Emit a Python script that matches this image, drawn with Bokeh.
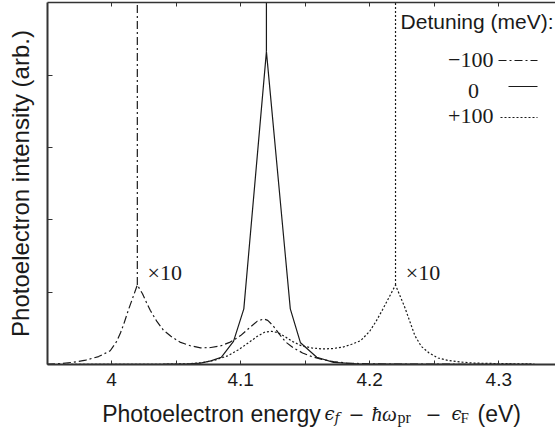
from bokeh.plotting import figure
from bokeh.layouts import column
from bokeh.models import FixedTicker, LinearAxis, Label
from bokeh.core.properties import value
from bokeh.embed import file_html
from bokeh.resources import INLINE

# ---------------- data ----------------
# Detuning -100 meV (dash-dot), shown x10 around its side peak
x_m100 = [3.950, 3.960, 3.970, 3.980, 3.990, 3.999, 4.004, 4.007, 4.0095, 4.013, 4.017,
          4.020, 4.024, 4.027, 4.030, 4.035, 4.040, 4.046, 4.053, 4.061, 4.069, 4.077,
          4.085, 4.092, 4.100, 4.107, 4.113, 4.118, 4.121, 4.125, 4.130, 4.135, 4.141,
          4.148, 4.155, 4.163, 4.172, 4.182, 4.200, 4.250, 4.328]
y_m100 = [0.005, 0.012, 0.030, 0.060, 0.110, 0.190, 0.320, 0.440, 0.560, 0.750, 0.950,
          1.100, 0.980, 0.860, 0.750, 0.600, 0.480, 0.390, 0.310, 0.260, 0.230, 0.235,
          0.260, 0.310, 0.400, 0.510, 0.600, 0.630, 0.610, 0.540, 0.420, 0.310, 0.230,
          0.160, 0.110, 0.070, 0.040, 0.020, 0.008, 0.004, 0.003]

# Detuning 0 meV (solid)
x_0 = [3.950, 4.000, 4.040, 4.060, 4.069, 4.077, 4.085, 4.0945, 4.1025, 4.120,
       4.1385, 4.1464, 4.159, 4.172, 4.190, 4.250, 4.328]
y_0 = [0.000, 0.002, 0.005, 0.010, 0.020, 0.050, 0.100, 0.320, 0.770, 4.330,
       0.770, 0.300, 0.100, 0.030, 0.010, 0.003, 0.000]

# Detuning +100 meV (dotted), shown x10 around its side peak
x_p100 = [3.950, 4.040, 4.060, 4.070, 4.080, 4.090, 4.098, 4.106, 4.113, 4.119, 4.124,
          4.129, 4.134, 4.140, 4.147, 4.155, 4.163, 4.171, 4.179, 4.186, 4.193, 4.200,
          4.205, 4.210, 4.215, 4.220, 4.223, 4.227, 4.231, 4.235, 4.240, 4.246, 4.253,
          4.261, 4.270, 4.280, 4.300, 4.327]
y_p100 = [0.000, 0.003, 0.010, 0.025, 0.060, 0.120, 0.200, 0.300, 0.390, 0.450, 0.460,
          0.440, 0.390, 0.320, 0.260, 0.230, 0.215, 0.220, 0.240, 0.280, 0.330, 0.460,
          0.600, 0.760, 0.930, 1.100, 0.970, 0.800, 0.600, 0.400, 0.250, 0.160, 0.090,
          0.055, 0.035, 0.020, 0.012, 0.008]

# sharp (off-scale) peaks: position and where the drawn line starts
spike_x = [4.02, 4.12, 4.22]
spike_base = [1.10, 4.33, 1.10]

x_ticks = [4.0, 4.1, 4.2, 4.3]
x_tick_labels = ["4", "4.1", "4.2", "4.3"]
x_minor_ticks = [3.95, 4.05, 4.15, 4.25]
y_ticks = [1, 2, 3, 4]

legend_title = "Detuning (meV):"
legend_labels = ["\u2212100", "0", "+100"]
scale_note = "\u00d710"

# ---------------- styles / layout ----------------
INK = "#1a1a1a"
AX = "#333333"
DASHDOT = "8 3 2 3"
DOTTED = "2 2"
SANS = "Liberation Sans"
SERIF = "Liberation Serif"
MATH = "DejaVu Serif"

W = 555
LEFT = 47          # frame left (px)
TOP = 2            # frame top (px)
FRAME_BOTTOM = 364 # frame bottom (px)
H1 = 395           # main figure height
H2 = 427 - H1      # x-title strip height
LABEL_LIFT = 8     # Label annotations sit a little low; lift them

X0 = 4 + (LEFT - 111) / 1291.0
X1 = 4 + (W - 111) / 1291.0
Y0, Y1 = 0.0, 5.01

p = figure(width=W, height=H1, x_range=(X0, X1), y_range=(Y0, Y1),
           output_backend="svg", toolbar_location=None,
           min_border_left=LEFT, min_border_right=0, min_border_top=TOP,
           min_border_bottom=H1 - FRAME_BOTTOM,
           x_axis_location=None, y_axis_location=None)
p.outline_line_color = None
p.xgrid.visible = False
p.ygrid.visible = False
p.background_fill_color = "white"
p.border_fill_color = "white"


def style_axis(ax, ticks, minor, size, width):
    ax.ticker = FixedTicker(ticks=ticks, minor_ticks=minor)
    ax.axis_line_color = AX
    ax.axis_line_width = width
    ax.major_tick_line_color = AX
    ax.minor_tick_line_color = AX
    ax.major_tick_in = size
    ax.major_tick_out = 0
    ax.minor_tick_in = size
    ax.minor_tick_out = 0


xb = LinearAxis()
style_axis(xb, x_ticks, x_minor_ticks, 4, 2)
xb.major_label_overrides = {t: l for t, l in zip(x_ticks, x_tick_labels)}
xb.major_label_text_font = SANS
xb.major_label_text_font_size = "19px"
xb.major_label_text_color = INK
xb.major_label_standoff = 8
p.add_layout(xb, "below")

xt = LinearAxis()
style_axis(xt, x_ticks, x_minor_ticks, 4, 1.5)
xt.major_label_overrides = {t: "" for t in x_ticks}
xt.major_label_text_font_size = "1px"
xt.major_label_standoff = 0
p.add_layout(xt, "above")

yl = LinearAxis()
style_axis(yl, y_ticks, [], 5, 2)
yl.major_label_overrides = {t: "" for t in y_ticks}
yl.major_label_text_font_size = "1px"
yl.major_label_standoff = 0
yl.axis_label = "Photoelectron intensity (arb.)"
yl.axis_label_text_font = SANS
yl.axis_label_text_font_style = "normal"
yl.axis_label_text_font_size = "24px"
yl.axis_label_text_color = INK
yl.axis_label_standoff = 14
p.add_layout(yl, "left")

# curves
p.line(x_m100, y_m100, line_color=INK, line_width=1.2, line_dash=DASHDOT)
p.line(x_0, y_0, line_color=INK, line_width=1.2)
p.line(x_p100, y_p100, line_color=INK, line_width=1.2, line_dash=DOTTED)

# sharp peaks (run off the top of the frame)
spike_dash = [DASHDOT, "solid", DOTTED]
for sx, sb, dash in zip(spike_x, spike_base, spike_dash):
    p.segment(x0=[sx], y0=[sb], x1=[sx], y1=[Y1 + 1], line_color=INK,
              line_width=1.2, line_dash=dash)


def px2x(px):
    return 4 + (px - 111) / 1291.0


def py2y(py):
    return (FRAME_BOTTOM - py) / ((FRAME_BOTTOM - TOP) / (Y1 - Y0))


def label_y(py):
    return py2y(py - LABEL_LIFT)


# x10 notes
for sx in (spike_x[0], spike_x[2]):
    p.add_layout(Label(x=sx + 0.0079, y=label_y(280), text=scale_note, text_font=SERIF,
                       text_font_size="22px", text_color=INK, text_baseline="alphabetic"))

# legend (label left of the line sample, as in the original)
p.add_layout(Label(x=px2x(553), y=label_y(29), text=legend_title, text_font=SANS,
                   text_font_size="21px", text_color=INK, text_align="right",
                   text_baseline="alphabetic"))
leg_text_py = [67, 98, 123]
leg_line_py = [60, 86, 117]
leg_align = ["right", "center", "right"]
leg_text_px = [493, 473, 493]
leg_start_px = [498, 508, 500]
for lab, tpy, lpy, al, tpx, spx, dash in zip(legend_labels, leg_text_py, leg_line_py,
                                              leg_align, leg_text_px, leg_start_px,
                                              spike_dash):
    p.add_layout(Label(x=px2x(tpx), y=label_y(tpy), text=lab, text_font=SERIF,
                       text_font_size="22px", text_color=INK, text_align=al,
                       text_baseline="alphabetic"))
    p.line([px2x(spx), px2x(537)], [py2y(lpy), py2y(lpy)], line_color=INK,
           line_width=1.2, line_dash=dash)

# ---------------- x-axis title strip ----------------
p2 = figure(width=W, height=H2, x_range=p.x_range, y_range=(0, 1),
            output_backend="svg", toolbar_location=None,
            min_border_left=LEFT, min_border_right=0, min_border_top=0,
            min_border_bottom=0, x_axis_location=None, y_axis_location=None)
p2.outline_line_color = None
p2.xgrid.visible = False
p2.ygrid.visible = False
p2.background_fill_color = "white"
p2.border_fill_color = "white"


def sy(py):
    return (427 - py) / float(H2)


pieces = [
    ("Photoelectron energy", SANS, "23px", "normal", 101.7, 413),
    ("\u03f5", MATH, "18px", "italic", 324, 413),
    ("f", MATH, "14px", "italic", 334, 417),
    ("\u2212", MATH, "19px", "normal", 348, 413),
    ("\u0127\u03c9", SERIF, "21px", "italic", 371, 413),
    ("pr", SERIF, "16px", "normal", 397, 417),
    ("\u2212", MATH, "19px", "normal", 425, 413),
    ("\u03f5", MATH, "18px", "italic", 451, 413),
    ("F", SERIF, "15px", "normal", 460, 417),
    ("(eV)", SANS, "23px", "normal", 477, 413),
]
for txt, font, size, style, px, py in pieces:
    p2.text(x=[px2x(px)], y=[sy(py)], text=[txt], text_font=value(font),
            text_font_size=value(size), text_font_style=style, text_color=INK,
            text_baseline="alphabetic", text_align="left")

layout = column(p, p2, spacing=0)
open("out.html", "w").write(file_html(layout, INLINE))
